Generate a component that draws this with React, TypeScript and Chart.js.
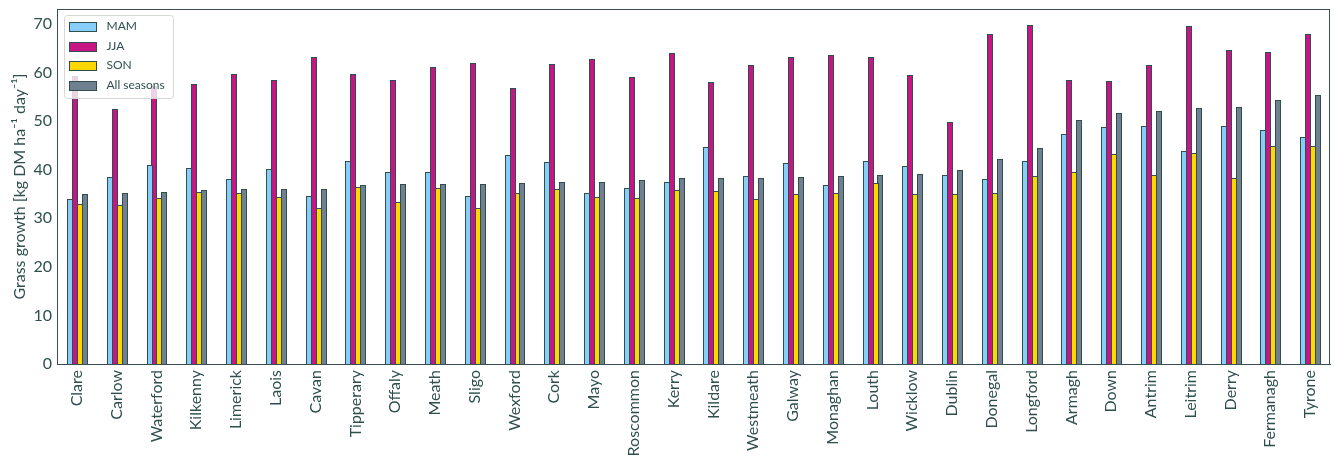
import React, { useEffect, useRef } from "react";
import { Chart, registerables } from "chart.js";

Chart.register(...registerables);

const categories = ["Clare","Carlow","Waterford","Kilkenny","Limerick","Laois","Cavan","Tipperary","Offaly","Meath","Sligo","Wexford","Cork","Mayo","Roscommon","Kerry","Kildare","Westmeath","Galway","Monaghan","Louth","Wicklow","Dublin","Donegal","Longford","Armagh","Down","Antrim","Leitrim","Derry","Fermanagh","Tyrone"];

const mam = [34.0, 38.6, 40.9, 40.4, 38.1, 40.2, 34.6, 41.9, 39.6, 39.6, 34.6, 43.1, 41.6, 35.2, 36.3, 37.5, 44.6, 38.8, 41.3, 36.9, 41.7, 40.8, 39.0, 38.0, 41.7, 47.4, 48.7, 49.1, 43.9, 49.1, 48.1, 46.8];
const jja = [59.4, 52.5, 57.2, 57.6, 59.8, 58.5, 63.2, 59.8, 58.4, 61.1, 61.9, 56.9, 61.7, 62.9, 59.2, 64.0, 58.0, 61.5, 63.3, 63.6, 63.2, 59.6, 49.9, 67.9, 69.8, 58.4, 58.2, 61.5, 69.5, 64.6, 64.2, 67.9];
const son = [33.0, 32.8, 34.2, 35.5, 35.2, 34.4, 32.2, 36.5, 33.4, 36.3, 32.2, 35.2, 36.1, 34.4, 34.2, 35.9, 35.7, 34.0, 35.1, 35.3, 37.3, 35.1, 35.1, 35.3, 38.8, 39.6, 43.3, 39.0, 43.5, 38.4, 44.8, 44.8];
const allSeasons = [35.1, 35.3, 35.5, 35.9, 36.1, 36.1, 36.1, 36.9, 37.1, 37.1, 37.1, 37.3, 37.5, 37.5, 37.9, 38.4, 38.4, 38.4, 38.6, 38.8, 39.0, 39.2, 40.0, 42.3, 44.4, 50.3, 51.6, 52.0, 52.8, 53.0, 54.3, 55.3];

const seriesLabels = ["MAM", "JJA", "SON", "All seasons"];
const seriesColors = ["#87CEFA", "#C71585", "#FFD700", "#708090"];
const yTitle = "Grass growth [kg DM ha\u207B\u00B9 day\u207B\u00B9]";

const TEXT = "#2F4F4F";
const FONT = "Lato, 'Noto Sans', sans-serif";

const snapPlugin = {
  id: "snapBars",
  afterDatasetsUpdate(chart: any) {
    chart.data.datasets.forEach((_: any, i: number) => {
      const meta = chart.getDatasetMeta(i);
      meta.data.forEach((bar: any) => {
        const w = Math.max(1, Math.round(bar.width) + 1);
        const left = Math.round(bar.x - bar.width / 2);
        bar.x = left + w / 2;
        bar.width = w;
        bar.y = Math.round(bar.y);
        bar.base = Math.round(bar.base);
      });
    });
  },
};

const framePlugin = {
  id: "frameAndLegend",
  afterDatasetsDraw(chart: any) {
    const { ctx, chartArea } = chart;
    ctx.save();
    ctx.strokeStyle = "#3a4f4f";
    ctx.lineWidth = 1;
    ctx.strokeRect(
      Math.round(chartArea.left) + 0.5,
      Math.round(chartArea.top) + 0.5,
      Math.round(chartArea.right - chartArea.left) - 1,
      Math.round(chartArea.bottom - chartArea.top)
    );
    const lx = Math.round(chartArea.left) + 7.5;
    const ly = Math.round(chartArea.top) + 6.5;
    const lw = 109;
    const lh = 83;
    const r = 3;
    ctx.beginPath();
    ctx.moveTo(lx + r, ly);
    ctx.lineTo(lx + lw - r, ly);
    ctx.quadraticCurveTo(lx + lw, ly, lx + lw, ly + r);
    ctx.lineTo(lx + lw, ly + lh - r);
    ctx.quadraticCurveTo(lx + lw, ly + lh, lx + lw - r, ly + lh);
    ctx.lineTo(lx + r, ly + lh);
    ctx.quadraticCurveTo(lx, ly + lh, lx, ly + lh - r);
    ctx.lineTo(lx, ly + r);
    ctx.quadraticCurveTo(lx, ly, lx + r, ly);
    ctx.closePath();
    ctx.fillStyle = "rgba(255,255,255,0.8)";
    ctx.fill();
    ctx.strokeStyle = "#d6d6d6";
    ctx.stroke();
    const ds = chart.data.datasets;
    ctx.font = `12px ${FONT}`;
    ctx.textBaseline = "middle";
    ctx.textAlign = "left";
    for (let i = 0; i < ds.length; i++) {
      const cy = ly + 11 + i * 19.5;
      const py = Math.round(cy - 4.5) + 0.5;
      ctx.fillStyle = ds[i].backgroundColor;
      ctx.fillRect(lx + 5, py, 27, 9);
      ctx.strokeStyle = TEXT;
      ctx.lineWidth = 1;
      ctx.strokeRect(lx + 5, py, 27, 9);
      ctx.fillStyle = TEXT;
      ctx.fillText(ds[i].label, lx + 42, cy);
    }
    ctx.restore();
  },
};

export default function App() {
  const ref = useRef<HTMLCanvasElement | null>(null);
  useEffect(() => {
    document.body.style.margin = "0";
    const seriesData = [mam, jja, son, allSeasons];
    const chart = new Chart(ref.current as HTMLCanvasElement, {
      type: "bar",
      data: {
        labels: categories,
        datasets: seriesData.map((d, i) => ({
          label: seriesLabels[i],
          data: d,
          backgroundColor: seriesColors[i],
          borderColor: TEXT,
          borderWidth: 1,
          categoryPercentage: 0.5,
          barPercentage: 1.0,
        })),
      },
      options: {
        animation: false,
        responsive: false,
        maintainAspectRatio: false,
        layout: { padding: { top: 9, right: 4, left: 0, bottom: 0 } },
        plugins: {
          legend: { display: false },
          tooltip: { enabled: false },
        },
        scales: {
          x: {
            grid: { display: false, drawTicks: false },
            border: { display: true, color: TEXT, width: 1 },
            ticks: {
              autoSkip: false,
              minRotation: 90,
              maxRotation: 90,
              padding: 6,
              color: TEXT,
              font: { family: FONT, size: 16 },
            },
            afterFit: (s: any) => {
              s.height = 106;
              s.paddingLeft = 0;
              s.paddingRight = 0;
            },
          },
          y: {
            min: 0,
            max: 73.1,
            grid: { display: false, drawTicks: false },
            border: { display: true, color: TEXT, width: 1 },
            ticks: {
              stepSize: 10,
              includeBounds: false,
              padding: 5,
              color: TEXT,
              font: { family: FONT, size: 16 },
              callback: (v: any) => (Number(v) % 10 === 0 ? String(v) : ""),
            },
            title: {
              display: true,
              text: yTitle,
              color: TEXT,
              font: { family: FONT, size: 16 },
              padding: { top: 10, bottom: 0 },
            },
            afterFit: (s: any) => {
              s.width = 57;
              s.paddingTop = 0;
              s.paddingBottom = 0;
            },
          },
        },
      },
      plugins: [snapPlugin, framePlugin],
    });
    return () => chart.destroy();
  }, []);
  return (
    <div style={{ width: 1334, height: 470 }}>
      <canvas ref={ref} width={1334} height={470} style={{ display: "block" }} />
    </div>
  );
}
